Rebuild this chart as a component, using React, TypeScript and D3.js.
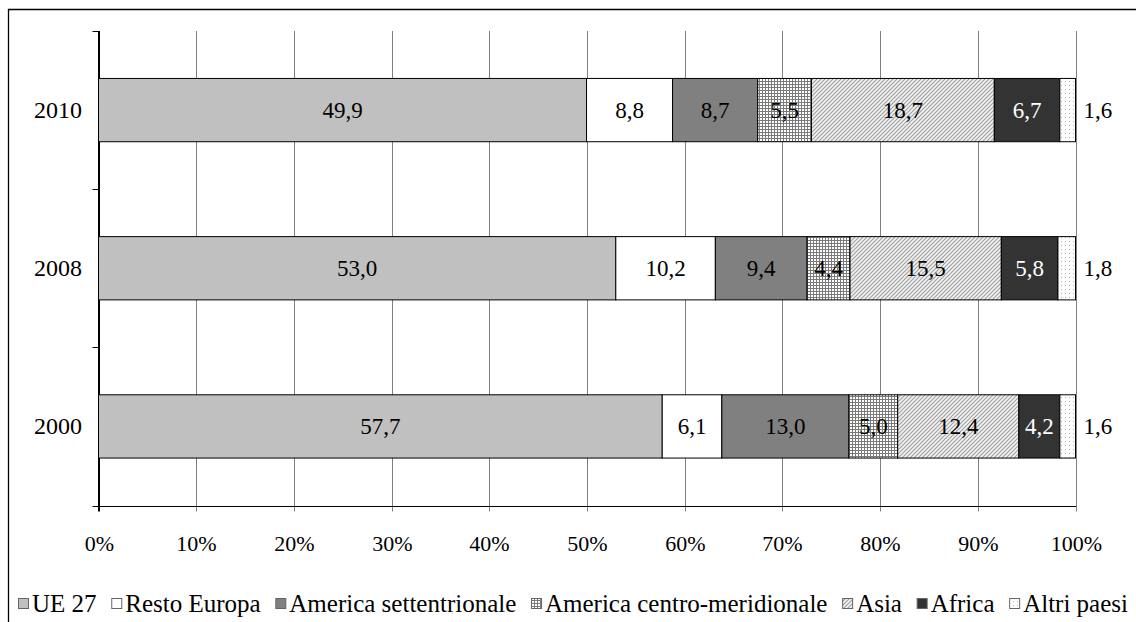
import React, { useEffect, useRef } from 'react';
import * as d3 from 'd3';

const years = ['2010', '2008', '2000'];
const seriesNames = ['UE 27', 'Resto Europa', 'America settentrionale', 'America centro-meridionale', 'Asia', 'Africa', 'Altri paesi'];
const ue27 = [49.9, 53.0, 57.7];
const restoEuropa = [8.8, 10.2, 6.1];
const americaSett = [8.7, 9.4, 13.0];
const americaCentro = [5.5, 4.4, 5.0];
const asia = [18.7, 15.5, 12.4];
const africa = [6.7, 5.8, 4.2];
const altriPaesi = [1.6, 1.8, 1.6];
const xTicks = [0, 10, 20, 30, 40, 50, 60, 70, 80, 90, 100];

const seriesValues = [ue27, restoEuropa, americaSett, americaCentro, asia, africa, altriPaesi];
const fills = ['#c0c0c0', '#ffffff', '#808080', 'url(#pGrid)', 'url(#pDiag)', '#333333', 'url(#pDots)'];
const labelColors = ['#000', '#000', '#000', '#000', '#000', '#fff', '#000'];

const W = 1136;
const H = 622;
const FS_LABEL = 23;
const FS_YEAR = 24;
const FS_TICK = 22;
const FS_LEG = 25;

export default function App() {
  const ref = useRef<SVGSVGElement | null>(null);

  useEffect(() => {
    const svg = d3.select(ref.current);
    svg.selectAll('*').remove();

    const defs = svg.append('defs');
    const pg = defs.append('pattern').attr('id', 'pGrid').attr('patternUnits', 'userSpaceOnUse').attr('width', 3).attr('height', 3);
    pg.append('rect').attr('width', 3).attr('height', 3).attr('fill', '#fff');
    pg.append('rect').attr('x', 0).attr('y', 0).attr('width', 3).attr('height', 1).attr('fill', '#7a7a7a');
    pg.append('rect').attr('x', 0).attr('y', 0).attr('width', 1).attr('height', 3).attr('fill', '#7a7a7a');

    const pd = defs.append('pattern').attr('id', 'pDiag').attr('patternUnits', 'userSpaceOnUse').attr('width', 4).attr('height', 4);
    pd.append('rect').attr('width', 4).attr('height', 4).attr('fill', '#f2f2f2');
    pd.append('path').attr('d', 'M-1,1 L1,-1 M0,4 L4,0 M3,5 L5,3').attr('stroke', '#a0a0a0').attr('stroke-width', 1.1);

    const pdo = defs.append('pattern').attr('id', 'pDots').attr('patternUnits', 'userSpaceOnUse').attr('width', 4).attr('height', 4);
    pdo.append('rect').attr('width', 4).attr('height', 4).attr('fill', '#fff');
    pdo.append('rect').attr('x', 1).attr('y', 1).attr('width', 1).attr('height', 1).attr('fill', '#b0b0b0');

    // outer border (top + left)
    svg.append('line').attr('x1', 8).attr('x2', W).attr('y1', 9.5).attr('y2', 9.5).attr('stroke', '#000').attr('stroke-width', 1.3);
    svg.append('line').attr('x1', 8.5).attr('x2', 8.5).attr('y1', 9).attr('y2', H).attr('stroke', '#000').attr('stroke-width', 1.3);

    const x0 = 98.5, x1 = 1075.5, yTop = 31, yBot = 505.5;
    const x = d3.scaleLinear().domain([0, 1]).range([x0, x1]);
    const y = d3.scaleBand<string>().domain(years).range([yTop, yBot]).paddingInner(0.6).paddingOuter(0.3);

    // gridlines
    const g = svg.append('g');
    xTicks.forEach((t) => {
      const xx = Math.round(x(t / 100)) + 0.5;
      g.append('line').attr('x1', xx).attr('x2', xx).attr('y1', yTop).attr('y2', yBot + 6)
        .attr('stroke', t === 0 ? '#000' : '#808080').attr('stroke-width', 1);
      g.append('text').attr('x', xx).attr('y', 551).attr('text-anchor', 'middle')
        .attr('font-size', FS_TICK).attr('fill', '#000').text(`${t}%`);
    });
    // y axis ticks at band boundaries
    const step = (yBot - yTop) / years.length;
    for (let i = 0; i <= years.length; i++) {
      const yy = Math.round(yTop + i * step) + 0.5;
      g.append('line').attr('x1', x0 - 6).attr('x2', x0).attr('y1', yy).attr('y2', yy).attr('stroke', '#000');
    }
    // x axis
    g.append('line').attr('x1', x0).attr('x2', x1 + 0.5).attr('y1', Math.round(yBot) + 0.5).attr('y2', Math.round(yBot) + 0.5).attr('stroke', '#000');
    g.append('line').attr('x1', x0).attr('x2', x0).attr('y1', yTop).attr('y2', yBot + 6).attr('stroke', '#000');

    // stacked data
    const rows = years.map((yr, i) => {
      const o: any = { year: yr };
      seriesNames.forEach((s, k) => { o[s] = seriesValues[k][i]; });
      return o;
    });
    const stack = d3.stack<any>().keys(seriesNames).offset(d3.stackOffsetExpand);
    const stacked = stack(rows);

    stacked.forEach((layer, k) => {
      layer.forEach((d) => {
        const yr = d.data.year;
        const bx = x(d[0]);
        const bw = x(d[1]) - x(d[0]);
        const by = y(yr)!;
        const bh = y.bandwidth();
        svg.append('rect').attr('x', bx).attr('y', by).attr('width', bw).attr('height', bh)
          .attr('fill', fills[k]).attr('stroke', '#000').attr('stroke-width', 1);
        const val = d.data[seriesNames[k]] as number;
        const lbl = val.toFixed(1).replace('.', ',');
        const isLast = k === seriesNames.length - 1;
        svg.append('text')
          .attr('x', isLast ? x1 + 8 : bx + bw / 2)
          .attr('y', by + bh / 2 + 8)
          .attr('text-anchor', isLast ? 'start' : 'middle')
          .attr('font-size', FS_LABEL)
          .attr('fill', labelColors[k]).text(lbl);
      });
    });

    // year labels
    years.forEach((yr) => {
      svg.append('text').attr('x', 82).attr('y', y(yr)! + y.bandwidth() / 2 + 8)
        .attr('text-anchor', 'end').attr('font-size', FS_YEAR).text(yr);
    });

    // legend
    const lg = svg.append('g');
    const texts = seriesNames.map((s) => lg.append('text').attr('font-size', FS_LEG).attr('y', 612).text(s));
    const widths = texts.map((t) => (t.node() as SVGTextElement).getComputedTextLength());
    const sq = 11, gapSq = 3;
    const startX = 18, endX = 1128;
    const natural = widths.reduce((a, b) => a + b, 0) + seriesNames.length * (sq + gapSq);
    const gap = (endX - startX - natural) / (seriesNames.length - 1);
    let cx = startX;
    seriesNames.forEach((s, k) => {
      lg.append('rect').attr('x', cx + 0.5).attr('y', 598.5).attr('width', sq - 1).attr('height', sq - 1)
        .attr('fill', fills[k]).attr('stroke', '#666').attr('stroke-width', 1);
      texts[k].attr('x', cx + sq + gapSq);
      cx += sq + gapSq + widths[k] + gap;
    });
  }, []);

  return (
    <svg ref={ref} width={W} height={H}
      style={{ position: 'absolute', left: 0, top: 0, background: '#fff', fontFamily: "'Liberation Serif', 'Times New Roman', Times, serif" }} />
  );
}
